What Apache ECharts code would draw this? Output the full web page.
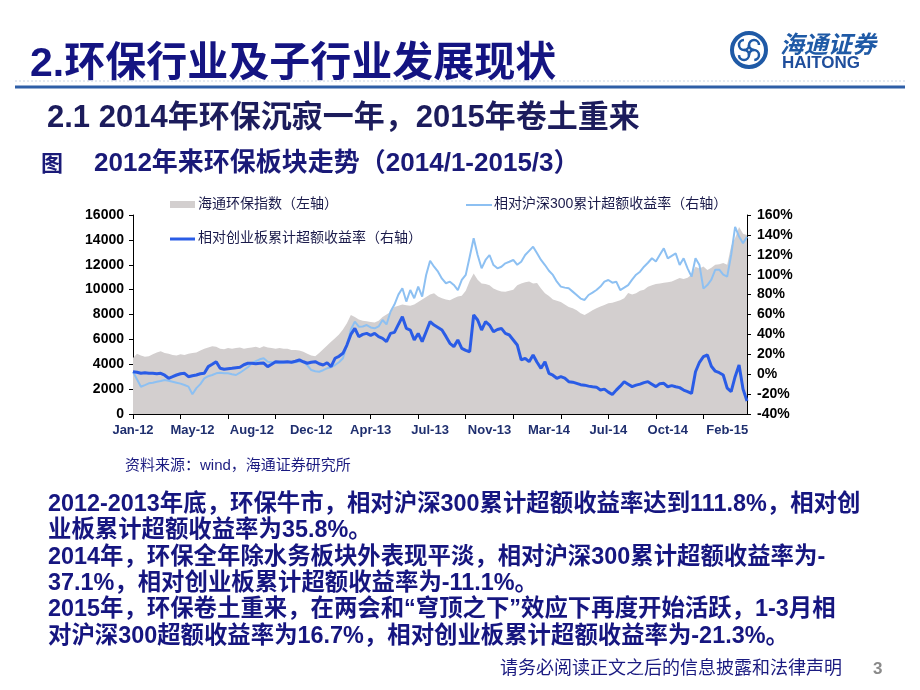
<!DOCTYPE html>
<html lang="zh">
<head>
<meta charset="UTF-8">
<title>环保板块走势</title>
<script src="https://cdn.jsdelivr.net/npm/echarts@6/dist/echarts.min.js"></script>
<style>
  html, body { margin: 0; padding: 0; background: #fff; }
  #main { width: 920px; height: 690px; }
</style>
</head>
<body>
<div id="main"></div>
<script type="text/javascript">
// x轴标签（每15个点一个）
var xLabels = ['Jan-12', 'May-12', 'Aug-12', 'Dec-12', 'Apr-13', 'Jul-13', 'Nov-13', 'Mar-14', 'Jul-14', 'Oct-14', 'Feb-15'];

// 海通环保指数（左轴）
var hbIndex = [
  4500, 4850, 4700, 4600, 4650, 4800, 4950, 5050, 4900, 4850,
  4750, 4700, 4800, 4750, 4850, 4900, 4950, 5100, 5250, 5350,
  5450, 5400, 5250, 5200, 5300, 5250, 5300, 5350, 5250, 5300,
  5350, 5400, 5300, 5450, 5350, 5300, 5250, 5300, 5250, 5250,
  5150, 5150, 5100, 5000, 4850, 4700, 4650, 4900, 5200, 5500,
  5800, 6100, 6400, 6800, 7300, 7950, 7800, 7600, 7500, 7450,
  7400, 7350, 7500, 7800, 8000, 8200, 8600, 8700, 8800, 8750,
  8700, 8800, 9000, 9200, 9400, 9600, 9700, 9450, 9300, 9200,
  9150, 9300, 9450, 9500, 9900, 10700, 11300, 10800, 10500, 10450,
  10350, 10100, 9950, 9850, 9830, 9900, 10000, 10350, 10500, 10600,
  10650, 10500, 10540, 10100, 9700, 9480, 9200, 9100, 9000, 8800,
  8600, 8500, 8350, 8100, 7960, 8150, 8350, 8500, 8640, 8760,
  8900, 8950, 9050, 9150, 9300, 9730, 9600, 9700, 9900, 10000,
  10230, 10350, 10450, 10500, 10550, 10600, 10650, 10800, 10930, 10850,
  10950, 11200, 11840, 11700, 11850, 11580, 11750, 12000, 12050, 12140,
  12000, 13500, 14150, 15040, 14500, 14390
];

// 相对沪深300累计超额收益率（右轴，%）
var vsHS300 = [
  2.5, -5.0, -12.6, -11.0, -9.2, -8.5, -7.5, -6.8, -5.8, -6.5,
  -7.5, -8.5, -9.5, -10.9, -12.5, -20.2, -14.0, -10.0, -4.2, -2.0,
  -0.8, 0.9, 1.5, 1.0, 0.9, 0.0, -0.8, 1.5, 4.2, 7.0,
  11.0, 13.0, 15.0, 16.0, 12.6, 12.0, 11.5, 11.0, 11.2, 12.6,
  11.5, 12.0, 12.5, 12.6, 9.0, 4.2, 3.0, 2.5, 4.0, 5.9,
  7.0, 9.2, 12.0, 16.0, 29.3, 45.0, 52.8, 47.8, 48.0, 49.4,
  47.0, 46.1, 48.0, 54.5, 50.0, 62.8, 70.0, 80.0, 86.3, 73.0,
  84.6, 76.3, 88.0, 78.0, 99.7, 114.0, 108.0, 103.0, 96.0, 91.4,
  93.0, 89.7, 84.6, 94.7, 99.8, 118.0, 136.6, 119.8, 106.4, 114.8,
  119.8, 109.7, 106.4, 108.0, 111.4, 113.0, 114.8, 110.0, 113.0, 119.8,
  124.0, 128.2, 121.5, 114.8, 109.7, 104.0, 99.8, 93.0, 88.0, 87.0,
  86.3, 83.0, 79.6, 76.0, 74.6, 79.6, 82.0, 84.6, 88.1, 93.1,
  94.7, 92.0, 93.0, 84.6, 87.0, 89.6, 95.0, 100.0, 103.0, 108.0,
  112.0, 116.5, 113.2, 120.0, 126.5, 116.5, 119.0, 121.5, 109.8, 116.5,
  106.4, 98.0, 116.5, 109.7, 86.0, 89.6, 95.0, 105.0, 105.0, 100.0,
  98.0, 119.8, 148.0, 138.3, 131.6, 138.0
];

// 相对创业板累计超额收益率（右轴，%）
var vsCYB = [
  2.5, 2.0, 0.9, 1.5, 0.9, 0.9, 0.5, 0.9, -1.0, -4.1,
  -2.5, -0.8, 0.5, 0.9, -2.5, -1.5, -0.8, 0.5, 0.9, 7.6,
  10.0, 12.6, 5.9, 5.0, 5.5, 5.9, 6.5, 7.0, 9.5, 11.0,
  11.0, 10.5, 11.0, 11.2, 7.6, 10.0, 12.6, 12.2, 12.2, 12.6,
  12.0, 13.0, 14.3, 12.5, 11.0, 12.0, 12.6, 10.5, 9.2, 11.5,
  7.6, 16.0, 18.0, 21.0, 29.3, 40.0, 46.1, 37.7, 40.0, 41.0,
  39.0, 41.0, 37.7, 36.0, 32.7, 41.0, 42.0, 50.0, 57.8, 46.1,
  44.4, 34.4, 41.0, 32.7, 42.7, 52.8, 49.4, 47.0, 44.4, 38.0,
  31.0, 27.7, 34.4, 26.0, 24.0, 22.6, 59.5, 54.5, 44.4, 52.8,
  49.4, 42.7, 45.0, 46.0, 41.0, 39.4, 34.4, 29.4, 14.3, 16.0,
  12.6, 19.3, 12.0, 5.9, 12.6, 0.9, -1.0, -4.1, -2.5, -4.0,
  -7.5, -8.0, -9.2, -10.5, -11.0, -12.0, -12.6, -13.0, -15.9, -15.0,
  -18.0, -20.5, -16.0, -12.0, -7.5, -10.0, -12.5, -11.0, -10.0, -8.5,
  -7.5, -10.0, -12.5, -9.5, -9.2, -12.6, -11.5, -12.6, -13.5, -15.9,
  -17.5, -19.3, 2.5, 12.0, 17.6, 19.3, 8.0, 3.0, 1.5, -0.8,
  -14.0, -17.6, -2.5, 9.3, -15.0, -27.0
];

// 正文
var bodyLines = [
  '2012-2013年底，环保牛市，相对沪深300累计超额收益率达到111.8%，相对创',
  '业板累计超额收益率为35.8%。',
  '2014年，环保全年除水务板块外表现平淡，相对沪深300累计超额收益率为-',
  '37.1%，相对创业板累计超额收益率为-11.1%。',
  '2015年，环保卷土重来，在两会和“穹顶之下”效应下再度开始活跃，1-3月相',
  '对沪深300超额收益率为16.7%，相对创业板累计超额收益率为-21.3%。'
];

var FONT = '"Liberation Sans", "Noto Sans CJK SC", sans-serif';
var CJK = '"Noto Sans CJK SC", sans-serif';
var cats = [];
for (var i = 0; i < hbIndex.length; i++) { cats.push(i); }

var graphics = [
  // 标题
  {type: 'text', left: 30, top: 44, style: {text: '2.环保行业及子行业发展现状', font: 'bold 41px ' + FONT, fill: '#141482'}},
  {type: 'line', shape: {x1: 15, y1: 81, x2: 905, y2: 81}, style: {stroke: '#c9d3e3', lineWidth: 1, lineDash: [2, 2]}},
  {type: 'line', shape: {x1: 15, y1: 87, x2: 905, y2: 87}, style: {stroke: '#2f5fa7', lineWidth: 3}},
  // logo
  {type: 'group', x: 749, y: 50, children: [
    {type: 'circle', shape: {cx: 0, cy: 0, r: 17}, style: {fill: 'none', stroke: '#1f5aa6', lineWidth: 4}},
    {type: 'arc', shape: {cx: -5, cy: -5, r: 5, startAngle: 0, endAngle: 4.7}, style: {fill: 'none', stroke: '#1f5aa6', lineWidth: 2.5}},
    {type: 'arc', shape: {cx: 5, cy: -5, r: 5, startAngle: 1.6, endAngle: 6.3}, style: {fill: 'none', stroke: '#1f5aa6', lineWidth: 2.5}},
    {type: 'arc', shape: {cx: 5, cy: 5, r: 5, startAngle: 3.1, endAngle: 7.8}, style: {fill: 'none', stroke: '#1f5aa6', lineWidth: 2.5}},
    {type: 'arc', shape: {cx: -5, cy: 5, r: 5, startAngle: 4.7, endAngle: 9.4}, style: {fill: 'none', stroke: '#1f5aa6', lineWidth: 2.5}}
  ]},
  {type: 'text', left: 780, top: 32, style: {text: '海通证券', font: 'italic bold 24px ' + CJK, fill: '#1f5aa6'}},
  {type: 'text', left: 782, top: 55, style: {text: 'HAITONG', font: 'bold 17px ' + FONT, fill: '#1f4e9c'}},
  // 副标题
  {type: 'text', left: 47, top: 103, style: {text: '2.1 2014年环保沉寂一年，2015年卷土重来', font: 'bold 31px ' + FONT, fill: '#1c1c5c'}},
  {type: 'text', left: 41, top: 154, style: {text: '图', font: 'bold 22px ' + FONT, fill: '#1a1a78'}},
  {type: 'text', left: 94, top: 151, style: {text: '2012年来环保板块走势（2014/1-2015/3）', font: 'bold 26px ' + FONT, fill: '#1a1a78'}},
  // 图例
  {type: 'rect', shape: {x: 170, y: 201, width: 25, height: 7}, style: {fill: '#d3cfcf'}},
  {type: 'text', left: 198, top: 197, style: {text: '海通环保指数（左轴）', font: '14px ' + FONT, fill: '#1a1a4a'}},
  {type: 'line', shape: {x1: 170, y1: 239, x2: 195, y2: 239}, style: {stroke: '#2a5ce6', lineWidth: 3}},
  {type: 'text', left: 198, top: 231, style: {text: '相对创业板累计超额收益率（右轴）', font: '14px ' + FONT, fill: '#1a1a4a'}},
  {type: 'line', shape: {x1: 466, y1: 205, x2: 492, y2: 205}, style: {stroke: '#8dc0f2', lineWidth: 2}},
  {type: 'text', left: 494, top: 197, style: {text: '相对沪深300累计超额收益率（右轴）', font: '14px ' + FONT, fill: '#1a1a4a'}},
  // 资料来源
  {type: 'text', left: 125, top: 458, style: {text: '资料来源：wind，海通证券研究所', font: '15px ' + FONT, fill: '#1a1a80'}},
  // 页脚
  {type: 'text', left: 500, top: 660, style: {text: '请务必阅读正文之后的信息披露和法律声明', font: '18px ' + FONT, fill: '#1a1a80'}},
  {type: 'text', left: 873, top: 661, style: {text: '3', font: 'bold 17px ' + FONT, fill: '#8a8a8a'}}
];
for (var k = 0; k < bodyLines.length; k++) {
  graphics.push({type: 'text', left: 48, top: 493 + k * 26.3, style: {text: bodyLines[k], font: 'bold 23.4px ' + FONT, fill: '#161680'}});
}

var myChart = echarts.init(document.getElementById('main'));
myChart.setOption({
  animation: false,
  backgroundColor: '#fff',
  textStyle: {fontFamily: FONT},
  grid: {left: 133, right: 173, top: 215, bottom: 276, containLabel: false},
  xAxis: {
    type: 'category',
    boundaryGap: false,
    data: cats,
    axisLine: {lineStyle: {color: '#000', width: 1}},
    axisTick: {
      interval: function (idx) { return idx % 12 === 0; },
      length: 5,
      lineStyle: {color: '#000'}
    },
    axisLabel: {
      interval: function (idx) { return idx % 15 === 0; },
      formatter: function (v, idx) { return xLabels[idx / 15] || ''; },
      color: '#1f2f6f',
      fontWeight: 'bold',
      fontSize: 13,
      margin: 10
    },
    splitLine: {show: false}
  },
  yAxis: [
    {
      type: 'value', min: 0, max: 16000, interval: 2000,
      axisLine: {show: true, lineStyle: {color: '#000'}},
      axisTick: {show: true, length: 4, lineStyle: {color: '#000'}},
      axisLabel: {color: '#000', fontWeight: 'bold', fontSize: 14, margin: 9, formatter: function (v) { return String(v); }},
      splitLine: {show: false}
    },
    {
      type: 'value', min: -40, max: 160, interval: 20, position: 'right',
      axisLine: {show: true, lineStyle: {color: '#000'}},
      axisTick: {show: true, length: 4, lineStyle: {color: '#000'}},
      axisLabel: {color: '#000', fontWeight: 'bold', fontSize: 14, margin: 10, formatter: '{value}%'},
      splitLine: {show: false}
    }
  ],
  graphic: graphics,
  series: [
    {
      name: '海通环保指数（左轴）',
      type: 'line',
      yAxisIndex: 0,
      data: hbIndex,
      symbol: 'none',
      lineStyle: {width: 0},
      areaStyle: {color: '#d3cfcf', opacity: 1},
      z: 1
    },
    {
      name: '相对沪深300累计超额收益率（右轴）',
      type: 'line',
      yAxisIndex: 1,
      data: vsHS300,
      symbol: 'none',
      lineStyle: {color: '#8dc0f2', width: 2},
      z: 2
    },
    {
      name: '相对创业板累计超额收益率（右轴）',
      type: 'line',
      yAxisIndex: 1,
      data: vsCYB,
      symbol: 'none',
      lineStyle: {color: '#2a5ce6', width: 3},
      z: 3
    }
  ]
});
</script>
</body>
</html>
